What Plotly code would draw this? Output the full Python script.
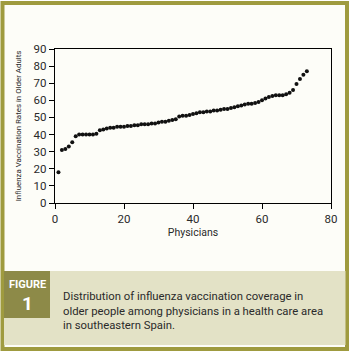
import plotly.graph_objects as go

physician = list(range(1, 74))
rates = [18, 31, 31.5, 33, 35.5, 39, 40, 40, 40, 40,
         40, 40.5, 42.5, 43, 43.5, 44, 44, 44.5, 44.5, 44.5,
         45, 45, 45.5, 45.5, 46, 46, 46, 46.5, 46.5, 47,
         47.5, 47.5, 48, 48.5, 49, 50.5, 51, 51, 51.5, 52,
         52.5, 53, 53, 53.5, 53.5, 54, 54, 54.5, 55, 55,
         55.5, 56, 56.5, 57, 57.5, 58, 58, 58.5, 59, 60,
         61, 62, 62.5, 63, 63, 63, 63.5, 64.5, 66, 69.5,
         72.5, 75, 77]
x_ticks = [0, 20, 40, 60, 80]
y_ticks = [0, 10, 20, 30, 40, 50, 60, 70, 80, 90]

FONT = "Roboto, Liberation Sans, sans-serif"
OLIVE = "#9f9b3f"
DARK = "#8d8a48"
LIGHT = "#e3e2c6"
TXT = "#2a2a2a"

W, H = 353, 352
L, R, T, B = 55, 22, 49, 149
PW, PH = W - L - R, H - T - B


def px(x):
    return (x - L) / PW


def py(y):
    return (H - B - y) / PH


fig = go.Figure()
fig.add_trace(go.Scatter(x=physician, y=rates, mode="markers",
                         marker=dict(color="#111111", size=4),
                         cliponaxis=False, showlegend=False))

axis_common = dict(showline=True, linecolor="black", linewidth=1.3, mirror=True,
                   ticks="outside", ticklen=5, tickcolor="black", tickwidth=1.2,
                   showgrid=False, zeroline=False,
                   tickfont=dict(family=FONT, size=11.5, color=TXT))
fig.update_xaxes(range=[0, 80], tickvals=x_ticks,
                 title=dict(text="Physicians", font=dict(family=FONT, size=10.5, color=TXT), standoff=3),
                 **axis_common)
fig.update_yaxes(range=[0, 90], tickvals=y_ticks,
                 title=dict(text="Influenza Vaccination Rates in Older Adults",
                            font=dict(family=FONT, size=7.9, color=TXT), standoff=10),
                 **axis_common)

shapes = []
# outer frame
shapes.append(dict(type="rect", xref="paper", yref="paper", layer="below",
                   x0=px(2.5), x1=px(347), y0=py(349), y1=py(3),
                   line=dict(color=OLIVE, width=4), fillcolor="#fdfdf8"))
# caption box
shapes.append(dict(type="rect", xref="paper", yref="paper", layer="below",
                   x0=px(4), x1=px(345.5), y0=py(345), y1=py(271),
                   line=dict(width=0), fillcolor=LIGHT))
# figure label box
shapes.append(dict(type="rect", xref="paper", yref="paper", layer="below",
                   x0=px(4), x1=px(50), y0=py(318), y1=py(271),
                   line=dict(width=0), fillcolor=DARK))
fig.update_layout(shapes=shapes)

fig.add_annotation(xref="paper", yref="paper", x=px(27), y=py(284), xanchor="center", yanchor="middle",
                   text="<b>FIGURE</b>",
                   showarrow=False, font=dict(family=FONT, size=11, color="white"))
fig.add_annotation(xref="paper", yref="paper", x=px(27), y=py(303), xanchor="center", yanchor="middle",
                   text="<b>1</b>",
                   showarrow=False, font=dict(family=FONT, size=19, color="white"))
fig.add_annotation(xref="paper", yref="paper", x=px(61), y=py(310.5), xanchor="left", yanchor="middle",
                   align="left",
                   text="Distribution of influenza vaccination coverage in<br>"
                        "older people among physicians in a health care area<br>"
                        "in southeastern Spain.",
                   showarrow=False, font=dict(family=FONT, size=11.3, color=TXT))

fig.update_layout(width=W, height=H, margin=dict(l=L, r=R, t=T, b=B),
                  paper_bgcolor="white", plot_bgcolor="white")

fig.write_html("out.html", config={"displayModeBar": False},
               post_script="document.body.style.margin='0';")
